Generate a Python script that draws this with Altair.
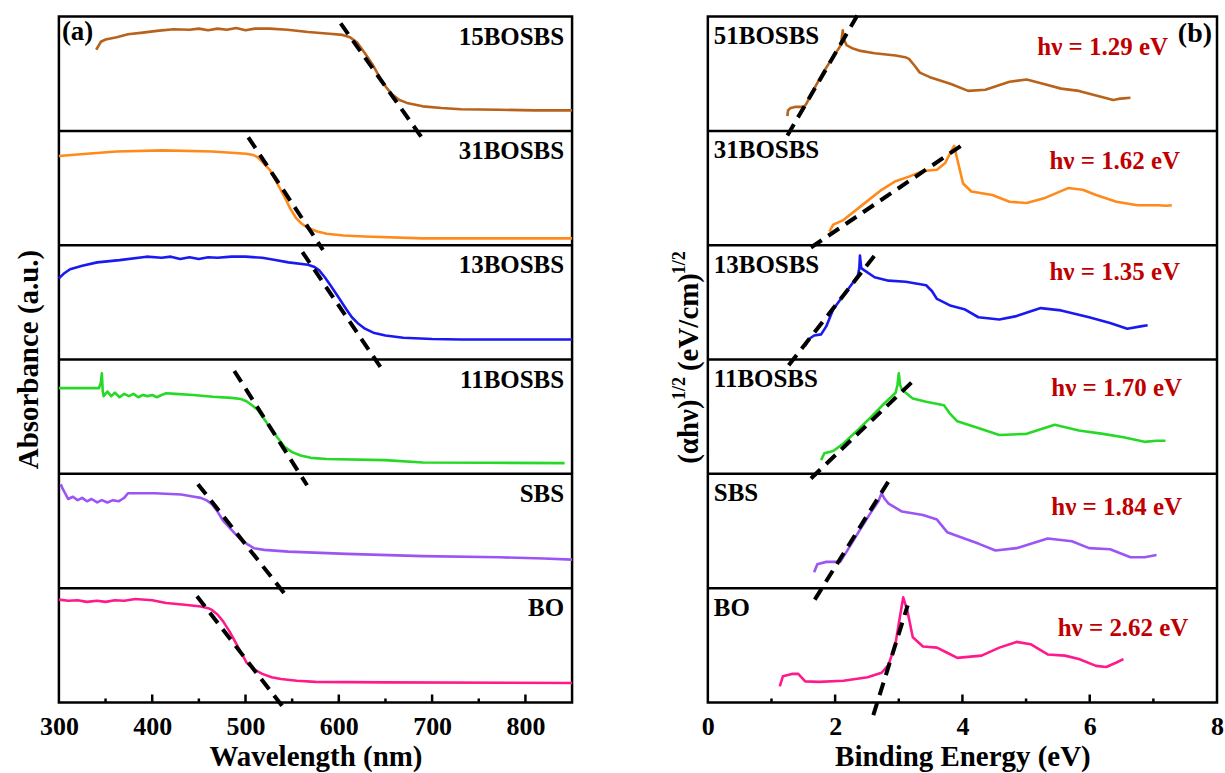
import altair as alt
import pandas as pd

FONT = "Liberation Serif"

# ---------------- panel (a): UV-vis absorbance ----------------
names_a = ["15BOSBS", "31BOSBS", "13BOSBS", "11BOSBS", "SBS", "BO"]
names_b = ["51BOSBS", "31BOSBS", "13BOSBS", "11BOSBS", "SBS", "BO"]
colors = ["#B8621B", "#FF8A1C", "#1A1AF0", "#26D926", "#9B55F5", "#FF1A8C"]
gaps = ["1.29", "1.62", "1.35", "1.70", "1.84", "2.62"]

wl_15 = [340, 345, 350, 362, 374, 390, 405, 423, 440, 450, 460, 470, 480, 490, 500, 510, 526, 545, 567, 590, 604, 612, 620, 628, 637, 645, 651, 657, 665, 673, 690, 710, 731, 772, 810, 850]
ab_15 = [0.71, 0.78, 0.80, 0.82, 0.845, 0.86, 0.875, 0.89, 0.885, 0.895, 0.88, 0.895, 0.885, 0.90, 0.88, 0.895, 0.895, 0.885, 0.865, 0.85, 0.84, 0.82, 0.77, 0.68, 0.57, 0.45, 0.38, 0.32, 0.27, 0.245, 0.215, 0.20, 0.19, 0.185, 0.18, 0.18]

wl_31 = [300, 330, 362, 411, 464, 501, 508, 513, 519, 526, 534, 542, 548, 554, 560, 567, 577, 587, 605, 628, 690, 850]
ab_31 = [0.78, 0.80, 0.82, 0.83, 0.82, 0.80, 0.79, 0.77, 0.72, 0.66, 0.54, 0.42, 0.32, 0.24, 0.19, 0.15, 0.12, 0.10, 0.085, 0.076, 0.06, 0.06]

wl_13 = [300, 305, 312, 325, 341, 365, 394, 410, 420, 430, 440, 450, 460, 470, 485, 500, 518, 532, 546, 567, 574, 579, 585, 591, 600, 608, 614, 620, 628, 637, 650, 669, 700, 731, 850]
ab_13 = [0.71, 0.75, 0.79, 0.82, 0.85, 0.87, 0.90, 0.89, 0.90, 0.88, 0.895, 0.88, 0.895, 0.89, 0.90, 0.90, 0.89, 0.87, 0.85, 0.83, 0.81, 0.78, 0.72, 0.65, 0.54, 0.44, 0.37, 0.32, 0.27, 0.235, 0.21, 0.19, 0.18, 0.176, 0.176]

wl_11 = [300, 343, 345, 346, 347, 348, 352, 356, 360, 365, 370, 375, 380, 385, 390, 395, 400, 405, 410, 415, 425, 444, 465, 485, 495, 501, 507, 513, 519, 526, 534, 542, 550, 559, 570, 587, 649, 690, 760, 842]
ab_11 = [0.75, 0.75, 0.80, 0.88, 0.72, 0.68, 0.72, 0.68, 0.71, 0.67, 0.70, 0.68, 0.70, 0.67, 0.69, 0.68, 0.69, 0.67, 0.69, 0.705, 0.70, 0.69, 0.675, 0.665, 0.655, 0.635, 0.60, 0.56, 0.49, 0.41, 0.32, 0.235, 0.19, 0.16, 0.14, 0.13, 0.12, 0.10, 0.097, 0.094]

wl_sbs = [302, 304, 306, 310, 315, 320, 325, 330, 335, 341, 346, 352, 358, 364, 368, 370, 374, 403, 431, 445, 452, 458, 464, 470, 476, 485, 493, 501, 509, 520, 546, 608, 690, 772, 820, 850]
ab_sbs = [0.91, 0.87, 0.84, 0.78, 0.80, 0.77, 0.79, 0.76, 0.78, 0.75, 0.77, 0.75, 0.77, 0.76, 0.78, 0.79, 0.83, 0.83, 0.82, 0.80, 0.79, 0.77, 0.735, 0.67, 0.59, 0.51, 0.44, 0.39, 0.35, 0.335, 0.32, 0.30, 0.28, 0.27, 0.26, 0.25]

wl_bo = [300, 310, 320, 330, 341, 350, 360, 370, 382, 400, 415, 435, 452, 460, 464, 470, 476, 483, 489, 495, 501, 509, 518, 528, 538, 555, 575, 649, 850]
ab_bo = [0.90, 0.89, 0.895, 0.88, 0.89, 0.88, 0.895, 0.89, 0.905, 0.895, 0.87, 0.855, 0.84, 0.825, 0.81, 0.77, 0.71, 0.62, 0.53, 0.44, 0.35, 0.29, 0.25, 0.22, 0.205, 0.19, 0.18, 0.176, 0.17]

# tangent (band-edge) lines of panel (a): start and end points
tan_a_x = [[602, 690], [503, 583], [561, 645], [488, 566], [449, 542], [448, 543]]
tan_a_y = [[0.94, -0.07], [0.944, -0.04], [0.94, -0.07], [0.90, -0.10], [0.91, -0.05], [0.93, -0.07]]

# ---------------- panel (b): Tauc-type plots ----------------
ev_51 = [1.25, 1.26, 1.30, 1.37, 1.51, 1.55, 1.64, 1.80, 1.97, 2.08, 2.10, 2.12, 2.14, 2.18, 2.28, 2.40, 2.62, 2.95, 3.10, 3.16, 3.25, 3.33, 3.49, 3.82, 4.09, 4.36, 4.74, 5.01, 5.28, 5.55, 5.83, 6.10, 6.37, 6.45, 6.53, 6.64]
tc_51 = [0.13, 0.18, 0.20, 0.21, 0.21, 0.24, 0.34, 0.50, 0.65, 0.74, 0.80, 0.88, 0.80, 0.75, 0.72, 0.70, 0.68, 0.66, 0.645, 0.63, 0.57, 0.51, 0.47, 0.41, 0.35, 0.36, 0.43, 0.45, 0.41, 0.37, 0.35, 0.31, 0.27, 0.28, 0.285, 0.29]

ev_31 = [1.91, 1.97, 2.13, 2.40, 2.73, 2.95, 3.16, 3.38, 3.60, 3.73, 3.82, 3.87, 3.92, 4.01, 4.14, 4.47, 4.74, 5.01, 5.28, 5.66, 5.89, 6.10, 6.42, 6.75, 7.08, 7.20, 7.29]
tc_31 = [0.12, 0.18, 0.22, 0.34, 0.485, 0.56, 0.60, 0.65, 0.66, 0.72, 0.82, 0.87, 0.75, 0.54, 0.47, 0.44, 0.38, 0.37, 0.41, 0.50, 0.485, 0.44, 0.38, 0.35, 0.35, 0.345, 0.35]

ev_13 = [1.53, 1.59, 1.67, 1.78, 1.86, 1.97, 2.13, 2.29, 2.36, 2.38, 2.39, 2.41, 2.46, 2.62, 2.84, 3.11, 3.43, 3.52, 3.60, 3.82, 4.03, 4.25, 4.58, 4.85, 5.23, 5.55, 5.99, 6.32, 6.59, 6.80, 6.91]
tc_13 = [0.12, 0.18, 0.21, 0.22, 0.29, 0.44, 0.56, 0.68, 0.74, 0.80, 0.91, 0.80, 0.78, 0.72, 0.69, 0.68, 0.65, 0.60, 0.53, 0.47, 0.44, 0.37, 0.35, 0.38, 0.45, 0.43, 0.37, 0.32, 0.27, 0.29, 0.30]

ev_11 = [1.78, 1.83, 1.97, 2.13, 2.35, 2.57, 2.78, 2.95, 2.98, 3.00, 3.02, 3.05, 3.22, 3.43, 3.71, 3.80, 3.92, 4.20, 4.58, 5.01, 5.45, 5.83, 6.21, 6.53, 6.86, 7.05, 7.19]
tc_11 = [0.12, 0.18, 0.20, 0.265, 0.38, 0.50, 0.62, 0.71, 0.78, 0.88, 0.78, 0.735, 0.66, 0.63, 0.60, 0.53, 0.46, 0.41, 0.34, 0.35, 0.43, 0.38, 0.35, 0.32, 0.28, 0.29, 0.29]

ev_sbs = [1.67, 1.72, 1.86, 2.08, 2.18, 2.40, 2.57, 2.68, 2.73, 2.78, 2.84, 3.05, 3.38, 3.60, 3.76, 4.03, 4.25, 4.52, 4.85, 5.34, 5.72, 5.99, 6.32, 6.64, 6.86, 7.05]
tc_sbs = [0.14, 0.21, 0.23, 0.23, 0.32, 0.52, 0.67, 0.76, 0.83, 0.78, 0.74, 0.67, 0.64, 0.60, 0.49, 0.435, 0.39, 0.33, 0.35, 0.435, 0.41, 0.35, 0.34, 0.27, 0.27, 0.29]

ev_bo = [1.13, 1.18, 1.32, 1.42, 1.53, 1.75, 2.13, 2.51, 2.73, 2.84, 2.95, 3.03, 3.07, 3.14, 3.22, 3.38, 3.60, 3.76, 3.92, 4.30, 4.58, 4.85, 5.07, 5.34, 5.61, 5.83, 6.10, 6.26, 6.42, 6.53]
tc_bo = [0.14, 0.23, 0.25, 0.25, 0.185, 0.18, 0.19, 0.22, 0.26, 0.33, 0.52, 0.79, 0.92, 0.79, 0.57, 0.49, 0.48, 0.435, 0.39, 0.41, 0.48, 0.53, 0.51, 0.42, 0.41, 0.38, 0.32, 0.31, 0.35, 0.38]

tan_b_x = [[1.25, 2.36], [1.62, 4.06], [1.27, 2.62], [1.62, 3.24], [1.68, 2.90], [2.60, 3.14]]
tan_b_y = [[-0.04, 1.02], [-0.02, 0.90], [-0.05, 0.91], [-0.04, 0.82], [-0.10, 0.99], [-0.11, 0.85]]

# label placement (panel b gap labels, in data units)
gap_lab_x = [7.23, 7.42, 7.42, 7.45, 7.45, 7.55]
gap_lab_v = [0.735, 0.74, 0.765, 0.75, 0.71, 0.65]

ticks_a_major = [400, 500, 600, 700, 800]
ticks_a_minor = [350, 450, 550, 650, 750]
ticks_b_major = [2, 4, 6]
ticks_b_minor = [1, 3, 5, 7]

W_A, W_B, H = 514, 510, 687
keys = [f"p{i}" for i in range(6)]


def curves_df(xs_list, ys_list):
    rows = []
    for i, (xs, ys) in enumerate(zip(xs_list, ys_list)):
        for k, (x, v) in enumerate(zip(xs, ys)):
            rows.append({"key": keys[i], "k": k, "x": x, "y": (5 - i) + v})
    return pd.DataFrame(rows)


def axis_x(values, title):
    return alt.Axis(values=values, format="d", ticks=False, domain=False, grid=False,
                    labelFont=FONT, labelFontWeight="bold", labelFontSize=26, labelColor="black",
                    labelPadding=11, labelFlush=False,
                    title=title, titleFont=FONT, titleFontWeight="bold", titleFontSize=29,
                    titleColor="black", titlePadding=3)


def panel(xs_list, ys_list, tan_x, tan_y, xdom, xvals, xtitle, width, minor, major):
    xsc = alt.Scale(domain=xdom, nice=False, zero=False)
    ysc = alt.Scale(domain=[0, 6], nice=False, zero=False)
    cdf = curves_df(xs_list, ys_list)
    tdf = curves_df(tan_x, tan_y)
    sep = pd.DataFrame({"y": [1, 2, 3, 4, 5]})
    curves = alt.Chart(cdf).mark_line(strokeWidth=2.6, strokeJoin="round", clip=False).encode(
        x=alt.X("x:Q", scale=xsc, axis=axis_x(xvals, xtitle)),
        y=alt.Y("y:Q", scale=ysc, axis=None),
        color=alt.Color("key:N", scale=alt.Scale(domain=keys, range=colors), legend=None),
        detail="key:N",
        order="k:Q",
    )
    tang = alt.Chart(tdf).mark_line(color="black", strokeWidth=4, strokeDash=[13, 8],
                                    strokeJoin="round", clip=False).encode(
        x=alt.X("x:Q", scale=xsc), y=alt.Y("y:Q", scale=ysc), detail="key:N", order="k:Q"
    )
    seps = alt.Chart(sep).mark_rule(color="black", strokeWidth=2.5).encode(
        y=alt.Y("y:Q", scale=ysc), x=alt.value(0), x2=alt.value(width)
    )
    tmaj = alt.Chart(pd.DataFrame({"t": major})).mark_rule(color="black", strokeWidth=2.5).encode(
        x=alt.X("t:Q", scale=xsc), y=alt.value(H), y2=alt.value(H - 8)
    )
    tmin = alt.Chart(pd.DataFrame({"t": minor})).mark_rule(color="black", strokeWidth=2.5).encode(
        x=alt.X("t:Q", scale=xsc), y=alt.value(H), y2=alt.value(H - 4)
    )
    return [curves, tang, seps, tmaj, tmin], xsc, ysc


# ---- build panel (a)
layers_a, xsa, ysa = panel(
    [wl_15, wl_31, wl_13, wl_11, wl_sbs, wl_bo],
    [ab_15, ab_31, ab_13, ab_11, ab_sbs, ab_bo],
    tan_a_x, tan_a_y, [300, 850], [300, 400, 500, 600, 700, 800], "Wavelength (nm)", W_A,
    ticks_a_minor, ticks_a_major)

lab_a = pd.DataFrame({"name": names_a, "y": [(5 - i) + 0.825 for i in range(6)]})
names_a_chart = alt.Chart(lab_a).mark_text(align="right", baseline="middle", font=FONT, fontWeight="bold",
                                           fontSize=25, color="black").encode(
    x=alt.value(506), y=alt.Y("y:Q", scale=ysa), text="name:N")
tag_a = alt.Chart(pd.DataFrame({"t": ["(a)"]})).mark_text(align="left", baseline="middle", font=FONT,
                                                          fontWeight="bold", fontSize=27, color="black").encode(
    x=alt.value(3), y=alt.value(15), text="t:N")
ytitle_a = alt.Chart(pd.DataFrame({"t": ["Absorbance (a.u.)"]})).mark_text(
    angle=270, align="center", baseline="middle", font=FONT, fontWeight="bold", fontSize=29, color="black").encode(
    x=alt.value(-30), y=alt.value(H / 2), text="t:N")
anchor = alt.Chart(pd.DataFrame({"t": [0]})).mark_rule(opacity=0, strokeWidth=1).encode(
    x=alt.value(-57), x2=alt.value(-52), y=alt.value(-14))

left = alt.layer(*layers_a, names_a_chart, tag_a, ytitle_a, anchor).properties(width=W_A, height=H)

# ---- build panel (b)
layers_b, xsb, ysb = panel(
    [ev_51, ev_31, ev_13, ev_11, ev_sbs, ev_bo],
    [tc_51, tc_31, tc_13, tc_11, tc_sbs, tc_bo],
    tan_b_x, tan_b_y, [0, 8], [0, 2, 4, 6, 8], "Binding Energy (eV)", W_B,
    ticks_b_minor, ticks_b_major)

lab_b = pd.DataFrame({"name": names_b, "y": [(5 - i) + 0.83 for i in range(6)]})
names_b_chart = alt.Chart(lab_b).mark_text(align="left", baseline="middle", font=FONT, fontWeight="bold",
                                           fontSize=25, color="black").encode(
    x=alt.value(6), y=alt.Y("y:Q", scale=ysb), text="name:N")
gap_df = pd.DataFrame({"t": [f"h\u03bd = {g} eV" for g in gaps], "x": gap_lab_x,
                       "y": [(5 - i) + v for i, v in enumerate(gap_lab_v)]})
gap_chart = alt.Chart(gap_df).mark_text(align="right", baseline="middle", font=FONT, fontWeight="bold",
                                        fontSize=25, color="#C00000").encode(
    x=alt.X("x:Q", scale=xsb), y=alt.Y("y:Q", scale=ysb), text="t:N")
tag_b = alt.Chart(pd.DataFrame({"t": ["(b)"]})).mark_text(align="right", baseline="middle", font=FONT,
                                                          fontWeight="bold", fontSize=28, color="black").encode(
    x=alt.value(505), y=alt.value(17), text="t:N")

# composed y title: (αhν)^1/2 (eV/cm)^1/2
yb_x, yb_start = -19, 448
pieces = [("(\u03b1h\u03bd)", 29, 0, 0), ("1/2", 18, -9, 64), ("(eV/cm)", 29, 0, 93), ("1/2", 18, -9, 190)]
ytitle_b = []
for txt, fs, dx, dy in pieces:
    ytitle_b.append(alt.Chart(pd.DataFrame({"t": [txt]})).mark_text(
        angle=270, align="left", baseline="middle", font=FONT, fontWeight="bold", fontSize=fs,
        color="black").encode(x=alt.value(yb_x + dx), y=alt.value(yb_start - dy), text="t:N"))

right = alt.layer(*layers_b, names_b_chart, gap_chart, tag_b, *ytitle_b).properties(width=W_B, height=H)

chart = alt.hconcat(left, right, spacing=136, bounds="flush").properties(
    padding=0, background="white"
).configure_view(stroke="black", strokeWidth=2.5)

chart.save("out.html", embed_options={"renderer": "svg", "actions": False})
